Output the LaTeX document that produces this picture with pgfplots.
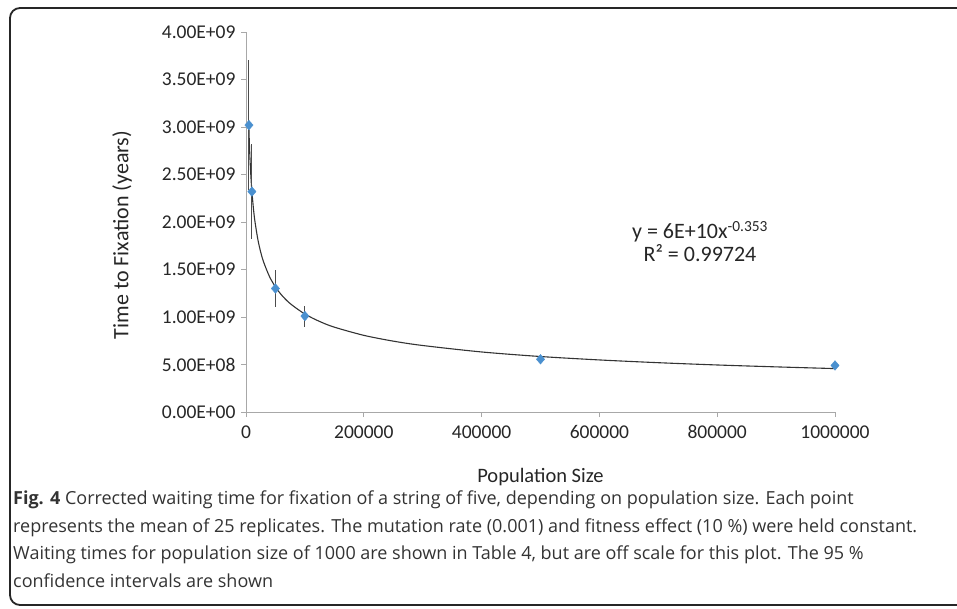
\documentclass[border=0pt]{standalone}
\usepackage{pgfplots}
\pgfplotsset{compat=1.18}
\usepackage{pgfplotstable}
\usepackage{fontspec}
\setmainfont{Carlito}
\newfontfamily\capfont{Open Sans}
\definecolor{ptblue}{HTML}{4A90CF}
\definecolor{axisgray}{HTML}{A8A8A8}

% mean waiting times with 95 % CI half-widths
\pgfplotstableread{
x       y        err
5000    3.02e9   0.68e9
10000   2.32e9   0.50e9
50000   1.30e9   0.19e9
100000  1.01e9   0.11e9
500000  0.555e9  0.04e9
1000000 0.49e9   0.035e9
}\means

% power trend line
\pgfplotstableread{
x       y
5000    2.967e9
5500    2.869e9
6000    2.783e9
7000    2.635e9
8000    2.514e9
9000    2.411e9
10000   2.324e9
12500   2.148e9
15000   2.014e9
20000   1.820e9
25000   1.682e9
30000   1.577e9
40000   1.424e9
50000   1.317e9
60000   1.234e9
75000   1.141e9
100000  1.031e9
125000  0.953e9
150000  0.893e9
200000  0.807e9
250000  0.746e9
300000  0.700e9
400000  0.632e9
500000  0.584e9
600000  0.548e9
700000  0.519e9
800000  0.495e9
900000  0.475e9
1000000 0.457e9
}\trend

\begin{document}
\begin{tikzpicture}[x=1pt,y=1pt]
\useasboundingbox (0,0) rectangle (957,608);
\draw[line width=1.8pt, black!85, rounded corners=10pt] (970,600) -- (10,600) -- (10,3) -- (970,3);

\begin{axis}[
    at={(246pt,196pt)}, anchor=south west,
    scale only axis, width=589pt, height=380pt,
    xmin=0, xmax=1000000, ymin=0, ymax=4e9,
    axis lines=left,
    axis line style={axisgray, line width=0.9pt, -},
    tick align=outside, major tick length=5pt,
    tick style={axisgray, line width=0.9pt},
    scaled ticks=false,
    xtick={0,200000,400000,600000,800000,1000000},
    xticklabels={0,200000,400000,600000,800000,1000000},
    ytick={0,5e8,1e9,1.5e9,2e9,2.5e9,3e9,3.5e9,4e9},
    yticklabels={0.00E+00,5.00E+08,1.00E+09,1.50E+09,2.00E+09,2.50E+09,3.00E+09,3.50E+09,4.00E+09},
    ticklabel style={font=\fontsize{19.5}{19.5}\selectfont, black!85},
    xticklabel style={yshift=-5pt},
    yticklabel style={xshift=-2pt},
    xlabel={Population Size}, ylabel={Time to Fixation (years)},
    xlabel style={font=\fontsize{20.5}{20.5}\selectfont, black!85,
        at={(axis description cs:0.5,-0.172)}, anchor=center},
    ylabel style={font=\fontsize{22}{22}\selectfont, black!85,
        at={(axis description cs:-0.2105,0.466)}, anchor=center, rotate=0},
    clip=false,
]
\addplot[black!80, line width=1.1pt, smooth] table[x=x, y=y] {\trend};
\addplot[only marks, mark=diamond*, mark size=4.8pt, ptblue,
    mark options={xscale=1.15},
    error bars/.cd, y dir=both, y explicit, error mark=none,
    error bar style={black!70, line width=1pt}]
    table[x=x, y=y, y error=err] {\means};
\node[font=\fontsize{22}{22}\selectfont, black!85] at (axis cs:770800,1.895e9)
    {y = 6E+10x\textsuperscript{-0.353}};
\node[font=\fontsize{22}{22}\selectfont, black!85] at (axis cs:770800,1.674e9)
    {R² = 0.99724};
\end{axis}

\begin{scope}[every node/.style={anchor=base west, inner sep=0pt,
    font=\capfont\fontsize{18}{18}\selectfont, black!80}]
\node at (13,103.5) {{\bfseries Fig. 4} Corrected waiting time for fixation of a string of five, depending on population size. Each point};
\node at (13,76) {represents the mean of 25 replicates. The mutation rate (0.001) and fitness effect (10 \%) were held constant.};
\node at (13,48.5) {Waiting times for population size of 1000 are shown in Table 4, but are off scale for this plot. The 95 \%};
\node at (13,21) {confidence intervals are shown};
\end{scope}
\end{tikzpicture}
\end{document}
